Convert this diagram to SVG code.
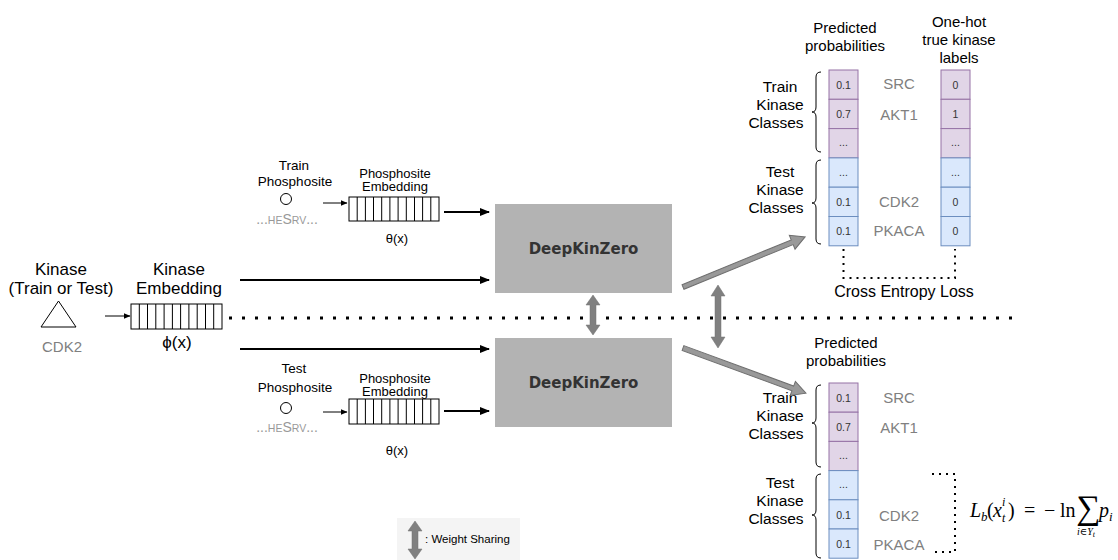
<svg xmlns="http://www.w3.org/2000/svg" width="1118" height="560" viewBox="0 0 1118 560">
<defs>
<style>
text{font-family:"Liberation Sans",Arial,sans-serif;fill:#000}
.lbl{font-size:15px;text-anchor:middle}
.big{font-size:17px;text-anchor:middle}
.sm{font-size:13.5px;text-anchor:middle}
.gray{fill:#808080}
.cls{font-size:15px;text-anchor:middle;fill:#808080}
.cell{font-size:10.5px;text-anchor:middle;fill:#333}
.kc{font-size:15.5px;text-anchor:middle}
.dkz{font-family:"DejaVu Sans",sans-serif;font-weight:bold;font-size:15px;fill:#333;text-anchor:middle}
.pur{fill:#e1d5e7;stroke:#9673a6;stroke-width:1}
.blu{fill:#dae8fc;stroke:#6c8ebf;stroke-width:1}
.emb{fill:#fff;stroke:#000;stroke-width:1}
.brace{fill:none;stroke:#000;stroke-width:1}
.math{font-family:"Liberation Serif","DejaVu Serif",serif}
.it{font-style:italic}
.ws{fill:#808080;stroke:#707070;stroke-width:0.5}
.blk{fill:#999;stroke:#6e6e6e;stroke-width:1}
.seq{font-size:14px;text-anchor:middle;fill:#999}
</style>
<marker id="ah" markerWidth="10" markerHeight="8" refX="9" refY="4" orient="auto" markerUnits="userSpaceOnUse">
<path d="M0,0 L10,4 L0,8 z" fill="#000"/>
</marker>
<marker id="ahs" markerWidth="7" markerHeight="6" refX="6.5" refY="3" orient="auto" markerUnits="userSpaceOnUse">
<path d="M0,0 L7,3 L0,6 z" fill="#000"/>
</marker>
</defs>
<rect width="1118" height="560" fill="#fff"/>

<g id="kinase">
<text class="big" x="61" y="275" font-size="17.5">Kinase</text>
<text class="big" x="61" y="294" font-size="17.5">(Train or Test)</text>
<polygon points="58.5,301 41,327 76,327" fill="#fff" stroke="#000" stroke-width="1"/>
<text class="lbl gray" x="62" y="352" font-size="13.5">CDK2</text>
</g>

<g id="kinase-embedding">
<text class="big" x="179" y="275">Kinase</text>
<text class="big" x="179" y="294">Embedding</text>
<rect class="emb" x="131" y="304" width="91" height="25"/>
<path d="M139.3,304v25M147.5,304v25M155.8,304v25M164.1,304v25M172.4,304v25M180.6,304v25M188.9,304v25M197.2,304v25M205.5,304v25M213.7,304v25" stroke="#000" stroke-width="1" fill="none"/>
<text class="big" x="177" y="348">ϕ(x)</text>
</g>

<g id="train-phosphosite">
<text class="sm" x="294" y="170">Train</text>
<text class="sm" x="295" y="186">Phosphosite</text>
<circle cx="286" cy="199" r="5.5" fill="#fff" stroke="#000" stroke-width="1"/>
<text class="seq" x="287" y="224">...<tspan font-size="10.5">HE</tspan>S<tspan font-size="10.5">RV</tspan>...</text>
</g>

<g id="train-phosphosite-embedding">
<text x="395" y="178" text-anchor="middle" font-size="13">Phosphosite</text>
<text x="395" y="191" text-anchor="middle" font-size="13">Embedding</text>
<rect class="emb" x="349" y="197" width="90" height="24"/>
<path d="M357.2,197v24M365.4,197v24M373.5,197v24M381.7,197v24M389.9,197v24M398.1,197v24M406.3,197v24M414.5,197v24M422.6,197v24M430.8,197v24" stroke="#000" stroke-width="1" fill="none"/>
<text x="397" y="243" text-anchor="middle" font-size="13">θ(x)</text>
</g>

<g id="test-phosphosite">
<text class="sm" x="294" y="373">Test</text>
<text class="sm" x="295" y="392">Phosphosite</text>
<circle cx="286" cy="408" r="5.5" fill="#fff" stroke="#000" stroke-width="1"/>
<text class="seq" x="287" y="432">...<tspan font-size="10.5">HE</tspan>S<tspan font-size="10.5">RV</tspan>...</text>
</g>

<g id="test-phosphosite-embedding">
<text x="395" y="383" text-anchor="middle" font-size="13">Phosphosite</text>
<text x="395" y="396" text-anchor="middle" font-size="13">Embedding</text>
<rect class="emb" x="349" y="399" width="90" height="25"/>
<path d="M357.2,399v25M365.4,399v25M373.5,399v25M381.7,399v25M389.9,399v25M398.1,399v25M406.3,399v25M414.5,399v25M422.6,399v25M430.8,399v25" stroke="#000" stroke-width="1" fill="none"/>
<text x="397" y="455" text-anchor="middle" font-size="13">θ(x)</text>
</g>

<g id="dkz-top">
<rect x="495" y="204" width="177" height="89" fill="#b3b3b3"/>
<text class="dkz" x="583.5" y="254">DeepKinZero</text>
</g>
<g id="dkz-bottom">
<rect x="495" y="338" width="177" height="89" fill="#b3b3b3"/>
<text class="dkz" x="583.5" y="388">DeepKinZero</text>
</g>

<g id="top-output">
<text class="lbl" x="845" y="33">Predicted</text>
<text class="lbl" x="845" y="51">probabilities</text>
<text class="lbl" x="959" y="27">One-hot</text>
<text class="lbl" x="959" y="45">true kinase</text>
<text class="lbl" x="959" y="63">labels</text>
<text class="kc" x="780" y="92">Train</text>
<text class="kc" x="780" y="110">Kinase</text>
<text class="kc" x="776" y="128">Classes</text>
<text class="kc" x="780" y="177">Test</text>
<text class="kc" x="780" y="195">Kinase</text>
<text class="kc" x="776" y="213">Classes</text>
<path class="brace" d="M821,72 Q816,72 816,77 L816,107 Q816,112 812,112 Q816,112 816,117 L816,147 Q816,152 821,152"/>
<path class="brace" d="M821,160 Q816,160 816,165 L816,198 Q816,203 812,203 Q816,203 816,208 L816,239 Q816,244 821,244"/>
<rect class="pur" x="829" y="70" width="29" height="29.3"/>
<rect class="pur" x="829" y="99.3" width="29" height="29.3"/>
<rect class="pur" x="829" y="128.6" width="29" height="29.3"/>
<rect class="blu" x="829" y="157.9" width="29" height="29.3"/>
<rect class="blu" x="829" y="187.2" width="29" height="29.3"/>
<rect class="blu" x="829" y="216.5" width="29" height="29.3"/>
<text class="cell" x="843.5" y="88.5">0.1</text>
<text class="cell" x="843.5" y="118">0.7</text>
<text class="cell" x="843.5" y="146">...</text>
<text class="cell" x="843.5" y="175.5">...</text>
<text class="cell" x="843.5" y="205.5">0.1</text>
<text class="cell" x="843.5" y="235">0.1</text>
<text class="cls" x="899" y="89">SRC</text>
<text class="cls" x="899" y="120">AKT1</text>
<text class="cls" x="899" y="207">CDK2</text>
<text class="cls" x="899" y="236">PKACA</text>
<rect class="pur" x="941" y="70" width="29" height="29.3"/>
<rect class="pur" x="941" y="99.3" width="29" height="29.3"/>
<rect class="pur" x="941" y="128.6" width="29" height="29.3"/>
<rect class="blu" x="941" y="157.9" width="29" height="29.3"/>
<rect class="blu" x="941" y="187.2" width="29" height="29.3"/>
<rect class="blu" x="941" y="216.5" width="29" height="29.3"/>
<text class="cell" x="955.5" y="88.5">0</text>
<text class="cell" x="955.5" y="118">1</text>
<text class="cell" x="955.5" y="146">...</text>
<text class="cell" x="955.5" y="175.5">...</text>
<text class="cell" x="955.5" y="205.5">0</text>
<text class="cell" x="955.5" y="235">0</text>
<path d="M843.5,249 V278 H955 V249" fill="none" stroke="#000" stroke-width="2" stroke-dasharray="2 5"/>
<text x="904" y="297" text-anchor="middle" font-size="16">Cross Entropy Loss</text>
</g>

<g id="bottom-output">
<text class="lbl" x="846" y="348">Predicted</text>
<text class="lbl" x="846" y="366">probabilities</text>
<text class="kc" x="780" y="403">Train</text>
<text class="kc" x="780" y="421">Kinase</text>
<text class="kc" x="776" y="439">Classes</text>
<text class="kc" x="780" y="488">Test</text>
<text class="kc" x="780" y="506">Kinase</text>
<text class="kc" x="776" y="524">Classes</text>
<path class="brace" d="M821,385 Q816,385 816,390 L816,418 Q816,423 812,423 Q816,423 816,428 L816,462 Q816,467 821,467"/>
<path class="brace" d="M821,474 Q816,474 816,479 L816,510 Q816,515 812,515 Q816,515 816,520 L816,553 Q816,558 821,558"/>
<rect class="pur" x="829" y="383" width="29" height="29.2"/>
<rect class="pur" x="829" y="412.2" width="29" height="29.2"/>
<rect class="pur" x="829" y="441.4" width="29" height="29.2"/>
<rect class="blu" x="829" y="470.6" width="29" height="29.2"/>
<rect class="blu" x="829" y="499.8" width="29" height="29.2"/>
<rect class="blu" x="829" y="529" width="29" height="29.2"/>
<text class="cell" x="843.5" y="401.5">0.1</text>
<text class="cell" x="843.5" y="430.5">0.7</text>
<text class="cell" x="843.5" y="459">...</text>
<text class="cell" x="843.5" y="488">...</text>
<text class="cell" x="843.5" y="518.5">0.1</text>
<text class="cell" x="843.5" y="547.5">0.1</text>
<text class="cls" x="899" y="403">SRC</text>
<text class="cls" x="899" y="433">AKT1</text>
<text class="cls" x="899" y="521">CDK2</text>
<text class="cls" x="899" y="550">PKACA</text>
<path d="M932,474 H955 V552 H932" fill="none" stroke="#000" stroke-width="2" stroke-dasharray="2 5"/>
</g>

<g id="formula">
<text class="math it" x="970" y="517" font-size="20">L</text>
<text class="math it" x="981" y="521" font-size="13">b</text>
<text class="math" x="987" y="517" font-size="20">(</text>
<text class="math it" x="993" y="517" font-size="20">x</text>
<text class="math it" x="1002" y="506" font-size="12">i</text>
<text class="math it" x="1002" y="522" font-size="12">t</text>
<text class="math" x="1008" y="517" font-size="20">)</text>
<text class="math" x="1024" y="517" font-size="20">=</text>
<text class="math" x="1044" y="517" font-size="20">−</text>
<text class="math" x="1060" y="517" font-size="20">ln</text>
<text class="math" x="1076" y="519" font-size="34">∑</text>
<text class="math it" x="1099" y="517" font-size="20">p</text>
<text class="math it" x="1109" y="521" font-size="13">i</text>
<text class="math it" x="1086" y="535" font-size="10" text-anchor="middle">i∈Y<tspan font-size="8" dy="2">t</tspan></text>
</g>

<g id="legend">
<rect x="397" y="518" width="123" height="42" fill="#f4f4f4"/>
<polygon class="ws" points="415,521 422,531 418,531 418,549 422,549 415,559 408,549 412,549 412,531 408,531"/>
<text x="425" y="543" font-size="11.5">: Weight Sharing</text>
</g>

<g id="connectors">
<line x1="105" y1="316" x2="130" y2="316" stroke="#000" stroke-width="1" marker-end="url(#ahs)"/>
<line x1="323" y1="203" x2="347" y2="203" stroke="#000" stroke-width="1" marker-end="url(#ahs)"/>
<line x1="323" y1="412" x2="347" y2="412" stroke="#000" stroke-width="1" marker-end="url(#ahs)"/>
<line x1="444" y1="212" x2="489" y2="212" stroke="#000" stroke-width="2" marker-end="url(#ah)"/>
<line x1="444" y1="411" x2="489" y2="411" stroke="#000" stroke-width="2" marker-end="url(#ah)"/>
<line x1="240" y1="280" x2="489" y2="280" stroke="#000" stroke-width="2" marker-end="url(#ah)"/>
<line x1="240" y1="349" x2="489" y2="349" stroke="#000" stroke-width="2" marker-end="url(#ah)"/>
<line x1="229" y1="318" x2="1022" y2="318" stroke="#000" stroke-width="3" stroke-dasharray="3 10"/>
<polygon class="ws" points="593,295 600,305 596,305 596,325 600,325 593,335 586,325 590,325 590,305 586,305"/>
<polygon class="ws" points="718,285 725,296 721,296 721,337 725,337 718,348 711,337 715,337 715,296 711,296"/>
<polygon class="blk" transform="translate(683,287) rotate(-22.3)" points="0,-2.5 118,-2.5 118,-7.5 132,0 118,7.5 118,2.5 0,2.5"/>
<polygon class="blk" transform="translate(683,348) rotate(20.2)" points="0,-2.5 117,-2.5 117,-7.5 131,0 117,7.5 117,2.5 0,2.5"/>
</g>
</svg>
